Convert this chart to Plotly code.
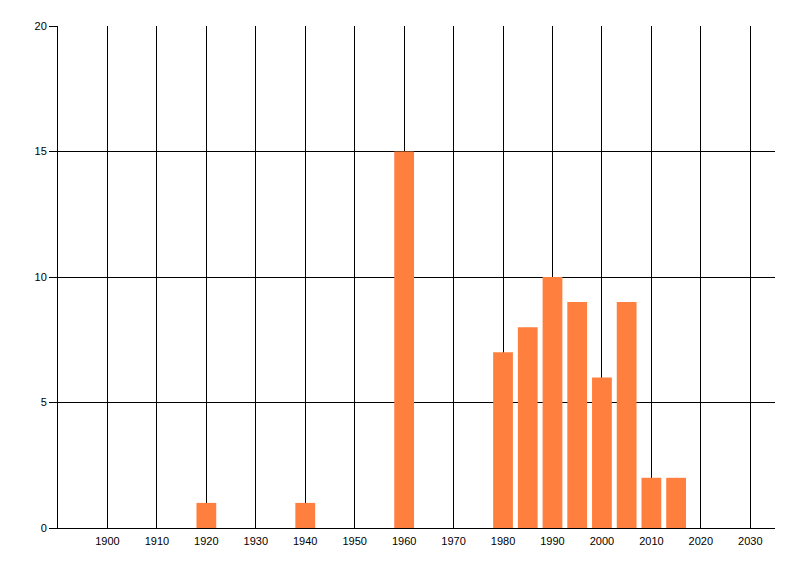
import plotly.graph_objects as go

years = [1920, 1940, 1960, 1980, 1985, 1990, 1995, 2000, 2005, 2010, 2015]
counts = [1, 1, 15, 7, 8, 10, 9, 6, 9, 2, 2]
x_ticks = list(range(1900, 2031, 10))
y_ticks = [0, 5, 10, 15, 20]

fig = go.Figure()
fig.add_trace(go.Bar(x=years, y=counts, width=4, marker=dict(color="#FF7F3F", line=dict(width=0))))

# page body adds an 8px offset, margins compensate for it
fig.update_layout(
    width=800,
    height=576,
    margin=dict(l=50, r=33, t=18, b=56),
    paper_bgcolor="white",
    plot_bgcolor="white",
    showlegend=False,
    font=dict(family="Liberation Sans, Arial, sans-serif", size=11, color="black"),
)
fig.update_xaxes(
    range=[1890, 2035],
    tickvals=x_ticks,
    ticktext=[str(v) for v in x_ticks],
    showgrid=True,
    gridcolor="black",
    gridwidth=1,
    showline=True,
    linecolor="black",
    linewidth=1,
    zeroline=False,
    ticks="",
    ticklabelstandoff=3,
)
fig.update_yaxes(
    range=[0, 20],
    tickvals=y_ticks,
    showgrid=True,
    gridcolor="black",
    gridwidth=1,
    showline=True,
    linecolor="black",
    linewidth=1,
    zeroline=False,
    ticks="outside",
    ticklen=8,
    tickcolor="black",
)

fig.write_html("out.html")
